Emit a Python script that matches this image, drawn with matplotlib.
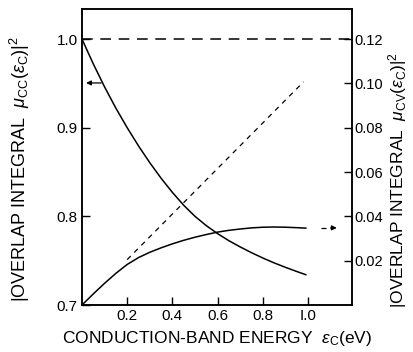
import matplotlib
matplotlib.use("Agg")
import matplotlib.pyplot as plt

# ---- data ----
x_cc = [0.0, 0.05, 0.1, 0.15, 0.2, 0.25, 0.3, 0.35, 0.4, 0.45, 0.5, 0.55,
        0.6, 0.65, 0.7, 0.75, 0.8, 0.85, 0.9, 0.95, 0.99]
mu_cc = [1.000, 0.972, 0.946, 0.922, 0.900, 0.8795, 0.8605, 0.843, 0.827, 0.8125,
         0.800, 0.7895, 0.7805, 0.7725, 0.7655, 0.759, 0.753, 0.7475, 0.7425, 0.7378, 0.7342]

x_cv = [0.0, 0.05, 0.1, 0.15, 0.2, 0.25, 0.3, 0.35, 0.4, 0.45, 0.5, 0.55,
        0.6, 0.65, 0.7, 0.75, 0.8, 0.85, 0.9, 0.95, 0.99]
mu_cv = [0.0, 0.0050, 0.0098, 0.0143, 0.0183, 0.0214, 0.0238, 0.0258, 0.0276,
         0.0292, 0.0306, 0.0318, 0.0329, 0.0337, 0.0343, 0.0348, 0.0351, 0.0352,
         0.0351, 0.0349, 0.0347]

x_tangent = [0.2, 0.98]
mu_tangent = [0.0205, 0.1007]

ref_level_left = 1.0

xticks = [0.2, 0.4, 0.6, 0.8, 1.0]
xticklabels = ["0.2", "0.4", "0.6", "0.8", "I.0"]
yticks_left = [0.7, 0.8, 0.9, 1.0]
yticklabels_left = ["0.7", "0.8", "0.9", "1.0"]
yticks_right = [0.02, 0.04, 0.06, 0.08, 0.10, 0.12]
yticklabels_right = ["0.02", "0.04", "0.06", "0.08", "0.10", "0.12"]

plt.rcParams['font.family'] = ['Liberation Sans', 'DejaVu Sans']
plt.rcParams['mathtext.fontset'] = 'custom'
plt.rcParams['mathtext.rm'] = 'Liberation Sans'
plt.rcParams['mathtext.sf'] = 'Liberation Sans'
plt.rcParams['mathtext.it'] = 'Liberation Sans:italic'

fig = plt.figure(figsize=(4.13, 3.52), dpi=100)
ax = fig.add_axes([0.1985, 0.1335, 0.6531, 0.8401])
ax2 = ax.twinx()

lw = 1.1
ax.plot(x_cc, mu_cc, color='black', lw=lw)
ax.axhline(ref_level_left, color='black', lw=lw, ls=(0, (7, 5)))
ax2.plot(x_cv, mu_cv, color='black', lw=lw)
ax2.plot(x_tangent, mu_tangent, color='black', lw=0.9, ls=(0, (4, 4)))

ax.set_xlim(0, 1.193)
ax.set_ylim(0.7, 1.0336)
ax2.set_ylim(0.0, 0.13344)

ax.set_xticks(xticks)
ax.set_xticklabels(xticklabels)
ax.set_yticks(yticks_left)
ax.set_yticklabels(yticklabels_left)
ax2.set_yticks(yticks_right)
ax2.set_yticklabels(yticklabels_right)

ax.tick_params(axis='both', direction='in', length=6, width=1, labelsize=11, pad=3)
ax.tick_params(axis='y', right=False)
ax.tick_params(axis='x', top=False)
ax2.tick_params(axis='y', direction='in', length=6, width=1, labelsize=10.5, pad=2)
for a in (ax, ax2):
    for s in a.spines.values():
        s.set_linewidth(1.1)

# arrows indicating which axis each curve belongs to
ax.annotate('', xy=(0.018, 0.9505), xytext=(0.085, 0.9505),
            arrowprops=dict(arrowstyle='-|>', color='black', lw=0.9,
                            mutation_scale=7, shrinkA=0, shrinkB=0))
ax2.plot([1.056, 1.095], [0.0348, 0.0348], color='black', lw=0.9, ls=(0, (4, 3)))
ax2.annotate('', xy=(1.127, 0.0348), xytext=(1.10, 0.0348),
             arrowprops=dict(arrowstyle='-|>', color='black', lw=0.9,
                             mutation_scale=7, shrinkA=0, shrinkB=0))

ax.set_xlabel(r'CONDUCTION-BAND ENERGY  $\epsilon_{\mathsf{C}}$(eV)', fontsize=12.5, labelpad=4)
fig.text(0.048, 0.52,
         r'$\left|\mathsf{OVERLAP\ INTEGRAL}\ \ \mu_{\mathsf{CC}}(\epsilon_{\mathsf{C}})\right|^{2}$',
         rotation=90, ha='center', va='center', fontsize=13)
fig.text(0.963, 0.49,
         r'$\left|\mathsf{OVERLAP\ INTEGRAL}\ \ \mu_{\mathsf{CV}}(\epsilon_{\mathsf{C}})\right|^{2}$',
         rotation=90, ha='center', va='center', fontsize=12.5)

fig.savefig('out.png', dpi=100)
